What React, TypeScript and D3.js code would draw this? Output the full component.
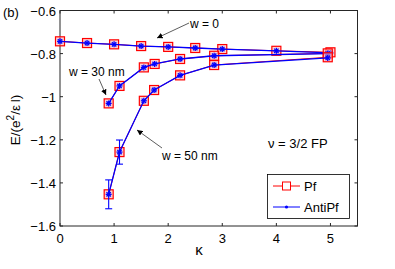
import { scaleLinear, line } from "d3";

const kappaW0 = [0, 0.5, 1, 1.5, 2, 2.5, 3, 4, 5];
const pfW0 = [-0.743, -0.751, -0.757, -0.765, -0.769, -0.774, -0.779, -0.787, -0.794];
const antiW0 = [-0.743, -0.751, -0.757, -0.765, -0.769, -0.774, -0.779, -0.787, -0.797];

const kappaW30 = [0.9, 1.1, 1.55, 1.75, 2.22, 2.85, 4.95];
const pfW30 = [-1.031, -0.95, -0.864, -0.848, -0.825, -0.81, -0.799];
const antiW30 = [-1.031, -0.95, -0.864, -0.848, -0.825, -0.81, -0.8];

const kappaW50 = [0.9, 1.1, 1.55, 1.74, 2.22, 2.85, 4.95];
const pfW50 = [-1.453, -1.257, -1.019, -0.969, -0.901, -0.853, -0.817];
const antiW50 = [-1.453, -1.257, -1.019, -0.969, -0.901, -0.853, -0.82];
const errW50 = [0.067, 0.056, 0, 0, 0, 0, 0];

const xTicks = [0, 1, 2, 3, 4, 5];
const yTicks = [-0.6, -0.8, -1, -1.2, -1.4, -1.6];

const axisColor = "#262626";
const font = "'Liberation Sans', Arial, sans-serif";

const App = () => {
  const left = 60;
  const right = 357.5;
  const top = 10.5;
  const bottom = 226;

  const x = scaleLinear().domain([0, 5.5]).range([left, right]);
  const y = scaleLinear().domain([-1.6, -0.6]).range([bottom, top]);

  const path = line<[number, number]>()
    .x((d) => x(d[0]))
    .y((d) => y(d[1]));

  const series = [
    { k: kappaW0, pf: pfW0, anti: antiW0, err: kappaW0.map(() => 0) },
    { k: kappaW30, pf: pfW30, anti: antiW30, err: kappaW30.map(() => 0) },
    { k: kappaW50, pf: pfW50, anti: antiW50, err: errW50 },
  ];

  const fmt = (v: number) => (v === -1 ? "\u22121" : "\u2212" + Math.abs(v).toFixed(1));

  const star = (cx: number, cy: number, key: string) => (
    <g key={key} stroke="#0000ff" strokeWidth={1.3}>
      <line x1={cx - 3} y1={cy} x2={cx + 3} y2={cy} />
      <line x1={cx} y1={cy - 3} x2={cx} y2={cy + 3} />
      <line x1={cx - 2.2} y1={cy - 2.2} x2={cx + 2.2} y2={cy + 2.2} />
      <line x1={cx - 2.2} y1={cy + 2.2} x2={cx + 2.2} y2={cy - 2.2} />
    </g>
  );

  return (
    <svg width={395} height={269} style={{ position: "absolute", left: 0, top: 0 }} fontFamily={font}>
      <defs>
        <marker id="arr" viewBox="0 0 10 10" refX="10" refY="5" markerWidth="7" markerHeight="7" orient="auto">
          <path d="M0,0 L10,5 L0,10 z" fill="#000" />
        </marker>
      </defs>
      <rect width={395} height={269} fill="#fff" />

      {/* frame and ticks */}
      <rect x={left} y={top} width={right - left} height={bottom - top} fill="none" stroke={axisColor} strokeWidth={1} />
      {xTicks.map((t) => (
        <g key={`xt-${t}`}>
          <line x1={x(t)} x2={x(t)} y1={bottom} y2={bottom - 3} stroke={axisColor} />
          <line x1={x(t)} x2={x(t)} y1={top} y2={top + 3} stroke={axisColor} />
          <text x={x(t)} y={bottom + 17} fontSize={13} textAnchor="middle" fill="#000">
            {t}
          </text>
        </g>
      ))}
      {yTicks.map((t) => (
        <g key={`yt-${t}`}>
          <line x1={left} x2={left + 3} y1={y(t)} y2={y(t)} stroke={axisColor} />
          <line x1={right} x2={right - 3} y1={y(t)} y2={y(t)} stroke={axisColor} />
          <text x={left - 4} y={y(t) + 5} fontSize={13} textAnchor="end" fill="#000">
            {fmt(t)}
          </text>
        </g>
      ))}

      {/* series */}
      {series.map((s, si) => (
        <g key={`s-${si}`}>
          <path d={path(s.k.map((k, i) => [k, s.pf[i]]))!} fill="none" stroke="#ff0000" strokeWidth={1} />
          {s.k.map((k, i) => (
            <rect
              key={`pf-${si}-${i}`}
              x={x(k) - 4.5}
              y={y(s.pf[i]) - 4.5}
              width={9}
              height={9}
              fill="#ffb3b3"
              fillOpacity={0.6}
              stroke="#ff0000"
              strokeWidth={1.2}
            />
          ))}
          <path d={path(s.k.map((k, i) => [k, s.anti[i]]))!} fill="none" stroke="#0000ff" strokeWidth={1.3} />
          {s.k.map((k, i) =>
            s.err[i] > 0 ? (
              <g key={`err-${si}-${i}`} stroke="#0000ff" strokeWidth={1.1}>
                <line x1={x(k)} x2={x(k)} y1={y(s.anti[i] - s.err[i])} y2={y(s.anti[i] + s.err[i])} />
                <line x1={x(k) - 3.5} x2={x(k) + 3.5} y1={y(s.anti[i] - s.err[i])} y2={y(s.anti[i] - s.err[i])} />
                <line x1={x(k) - 3.5} x2={x(k) + 3.5} y1={y(s.anti[i] + s.err[i])} y2={y(s.anti[i] + s.err[i])} />
              </g>
            ) : null
          )}
          {s.k.map((k, i) => star(x(k), y(s.anti[i]), `st-${si}-${i}`))}
        </g>
      ))}

      {/* annotations */}
      <line x1={189} y1={23} x2={157} y2={38} stroke="#333" strokeWidth={0.8} markerEnd="url(#arr)" />
      <text x={190} y={28} fontSize={12} fill="#000">w = 0</text>
      <line x1={99} y1={79} x2={106} y2={95} stroke="#333" strokeWidth={0.8} markerEnd="url(#arr)" />
      <text x={69} y={76} fontSize={12} fill="#000">w = 30 nm</text>
      <line x1={162} y1={148} x2={137} y2={130} stroke="#333" strokeWidth={0.8} markerEnd="url(#arr)" />
      <text x={162} y={160} fontSize={12} fill="#000">w = 50 nm</text>

      <text x={268} y={148} fontSize={13} fill="#000">ν = 3/2 FP</text>

      {/* legend */}
      <rect x={267.5} y={174.5} width={82} height={44} fill="#fff" stroke="#000" strokeWidth={0.8} />
      <line x1={273} x2={300} y1={186} y2={186} stroke="#ff0000" strokeWidth={1} />
      <rect x={282.5} y={182} width={8} height={8} fill="#fff" stroke="#ff0000" strokeWidth={1} />
      <text x={304} y={191} fontSize={13} fill="#000">Pf</text>
      <line x1={273} x2={300} y1={207} y2={207} stroke="#0000ff" strokeWidth={1} />
      <circle cx={286.5} cy={207} r={1.6} fill="#0000ff" />
      <text x={304} y={212} fontSize={13} fill="#000">AntiPf</text>

      {/* labels */}
      <text x={3} y={17} fontSize={13} fill="#000">(b)</text>
      <text x={199} y={255} fontSize={15} textAnchor="middle" fill="#000">κ</text>
      <text transform="translate(20,120) rotate(-90)" fontSize={13.5} textAnchor="middle" fill="#000">
        E/(e<tspan dy={-6} fontSize={10}>2</tspan>
        <tspan dy={6}>/ε{"\u2009"}l)</tspan>
      </text>
    </svg>
  );
};

export default App;
